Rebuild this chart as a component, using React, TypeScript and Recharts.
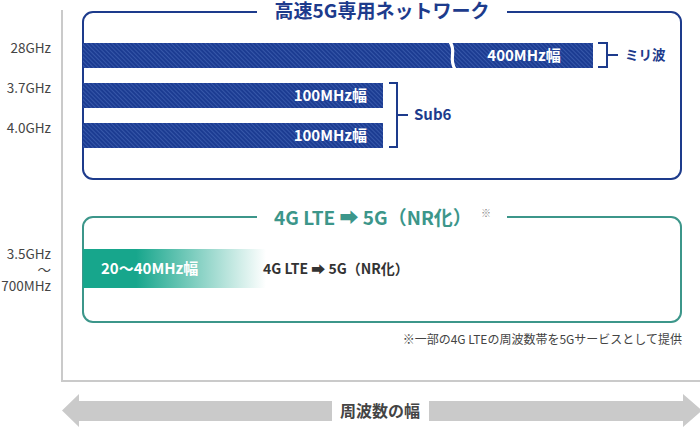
import React from 'react';
import { BarChart, Bar, XAxis, YAxis } from 'recharts';

// ---------- data ----------
const blueBands = ['28GHz', '3.7GHz', '4.0GHz'];
const blueLabels = ['400MHz幅', '100MHz幅', '100MHz幅'];
// drawn bar length on the (broken) width axis, 100MHz = 100 units
const blueBarLength = [170, 100, 100];
const blueBroken = [true, false, false];
const BREAK_VALUE = 123; // where the axis break is drawn on the broken bar

const greenBands = ['3.5GHz\n～\n700MHz'];
const greenLabels = ['20～40MHz幅'];
const greenBarLength = [61];

const blueTitle = '高速5G専用ネットワーク';
const greenTitle = '4G LTE ➡ 5G（NR化）';
const greenNote = '4G LTE ➡ 5G（NR化）';
const footnote = '※一部の4G LTEの周波数帯を5Gサービスとして提供';
const axisTitle = '周波数の幅';
const groupLabels = ['ミリ波', 'Sub6'];

const blueData = blueBands.map((band, i) => ({
  band,
  length: blueBarLength[i],
  label: blueLabels[i],
  broken: blueBroken[i],
}));
const greenData = greenBands.map((band, i) => ({
  band,
  length: greenBarLength[i],
  label: greenLabels[i],
}));

// ---------- styles ----------
const FONT = '"Noto Sans CJK JP", "Noto Sans", "DejaVu Sans", sans-serif';
const BLUE = '#1d3b8c';
const TEAL = '#3c968a';
const GREEN = '#17a68c';
const GRAY = '#cacaca';

const Tick = (props: any) => {
  const { x, y, payload, shift = 0 } = props;
  const lines = String(payload.value).split('\n');
  const lh = 16;
  const y0 = y + shift - ((lines.length - 1) * lh) / 2;
  return (
    <text x={x} y={y0} textAnchor="end" fontFamily={FONT} fontSize={13.5} fill="#444">
      {lines.map((l, i) => (
        <tspan key={i} x={x} y={y0 + i * lh} dy="0.36em">
          {l}
        </tspan>
      ))}
    </text>
  );
};

const BlueShape = (props: any) => {
  const { x, y, width, height, payload } = props;
  const end = x + width;
  const cy = y + height / 2;
  if (payload.broken) {
    const bx = x + (width * BREAK_VALUE) / payload.length;
    return (
      <g>
        <rect x={x} y={y} width={width} height={height} fill="url(#hatch)" />
        <path
          d={`M${bx - 2},${y - 1} C${bx + 5},${y + height * 0.35} ${bx - 4},${y + height * 0.6} ${bx + 3},${y + height + 1}`}
          stroke="#fff"
          strokeWidth={3.2}
          fill="none"
        />
        <text
          x={(bx + 3 + end) / 2}
          y={cy}
          dy="0.36em"
          textAnchor="middle"
          fontFamily={FONT}
          fontWeight={700}
          fontSize={15}
          fill="#fff"
        >
          {payload.label}
        </text>
      </g>
    );
  }
  return (
    <g>
      <rect x={x} y={y} width={width} height={height} fill="url(#hatch)" />
      <text
        x={end - 16}
        y={cy}
        dy="0.36em"
        textAnchor="end"
        fontFamily={FONT}
        fontWeight={700}
        fontSize={15}
        fill="#fff"
      >
        {payload.label}
      </text>
    </g>
  );
};

const GreenShape = (props: any) => {
  const { x, y, width, height, payload } = props;
  const cy = y + height / 2;
  return (
    <g>
      <rect x={x} y={y} width={width} height={height} fill="url(#greenFade)" />
      <text x={x + 18} y={cy} dy="0.36em" fontFamily={FONT} fontWeight={700} fontSize={15} fill="#fff">
        {payload.label}
      </text>
      <text x={x + width - 3} y={cy} dy="0.36em" fontFamily={FONT} fontWeight={700} fontSize={14} fill="#333">
        {greenNote}
      </text>
    </g>
  );
};

export default function App() {
  return (
    <div style={{ position: 'absolute', left: 0, top: 0, width: 700, height: 428, background: '#fff' }}>
      <div style={{ position: 'absolute', left: 0, top: 0 }}>
        <BarChart
          width={700}
          height={190}
          data={blueData}
          layout="vertical"
          margin={{ top: 35, right: 17, bottom: 35, left: 0 }}
        >
          <defs>
            <pattern id="hatch" width="3" height="3" patternUnits="userSpaceOnUse" patternTransform="rotate(-45)">
              <rect width="3" height="3" fill="#1c3c92" />
              <rect width="1" height="3" fill="#3657a9" />
            </pattern>
          </defs>
          {/* blue group box */}
          <rect x={83} y={12} width={598} height={167} rx={10} fill="none" stroke={BLUE} strokeWidth={2} />
          <rect x={257} y={0} width={250} height={26} fill="#fff" />
          <text x={382} y={17.5} textAnchor="middle" fontFamily={FONT} fontWeight={700} fontSize={19} fill={BLUE}>
            {blueTitle}
          </text>
          {/* brackets */}
          <path d="M598,43 H607 V67 H598 M607,55 H618" stroke={BLUE} strokeWidth={2} fill="none" />
          <text x={625} y={55} dy="0.36em" fontFamily={FONT} fontWeight={700} fontSize={13.5} fill={BLUE}>
            {groupLabels[0]}
          </text>
          <path d="M389,83 H397 V147 H389 M397,115 H408" stroke={BLUE} strokeWidth={2} fill="none" />
          <text x={414} y={115} dy="0.36em" fontFamily={FONT} fontWeight={700} fontSize={15} fill={BLUE}>
            {groupLabels[1]}
          </text>
          <XAxis type="number" hide domain={[0, 200]} />
          <YAxis
            type="category"
            dataKey="band"
            width={83}
            axisLine={false}
            tickLine={false}
            tickSize={0}
            tickMargin={32}
            tick={<Tick shift={-7} />}
          />
          <Bar dataKey="length" barSize={25} isAnimationActive={false} shape={<BlueShape />} />
        </BarChart>
      </div>
      <div style={{ position: 'absolute', left: 0, top: 0 }}>
        <BarChart
          width={700}
          height={428}
          data={greenData}
          layout="vertical"
          margin={{ top: 228, right: 17, bottom: 120, left: 0 }}
        >
          <defs>
            <linearGradient id="greenFade" x1="0" y1="0" x2="1" y2="0">
              <stop offset="0" stopColor={GREEN} stopOpacity={1} />
              <stop offset="0.29" stopColor={GREEN} stopOpacity={1} />
              <stop offset="1" stopColor={GREEN} stopOpacity={0} />
            </linearGradient>
          </defs>
          {/* axes frame */}
          <path d="M62,10 V381 H700" stroke={GRAY} strokeWidth={2} fill="none" />
          {/* green group box */}
          <rect x={83} y={217} width={598} height={105} rx={10} fill="none" stroke={TEAL} strokeWidth={2} />
          <rect x={257} y={204} width={250} height={26} fill="#fff" />
          <text x={373} y={224.5} textAnchor="middle" fontFamily={FONT} fontWeight={700} fontSize={19} fill={TEAL}>
            {greenTitle}
          </text>
          <text x={481} y={217} fontFamily={FONT} fontSize={10} fill="#888">
            ※
          </text>
          <text x={682} y={340} dy="0.36em" textAnchor="end" fontFamily={FONT} fontSize={12} fill="#444">
            {footnote}
          </text>
          {/* bottom double arrow */}
          <path d="M62,410.5 L79,394 V401 H332 V421 H79 V427 Z" fill={GRAY} />
          <path d="M702,410.5 L683,394 V401 H429 V421 H683 V427 Z" fill={GRAY} />
          <text x={380} y={411} dy="0.36em" textAnchor="middle" fontFamily={FONT} fontWeight={700} fontSize={16} fill="#444">
            {axisTitle}
          </text>
          <XAxis type="number" hide domain={[0, 200]} />
          <YAxis
            type="category"
            dataKey="band"
            width={83}
            axisLine={false}
            tickLine={false}
            tickSize={0}
            tickMargin={32}
            tick={<Tick shift={2} />}
          />
          <Bar dataKey="length" barSize={39} isAnimationActive={false} shape={<GreenShape />} />
        </BarChart>
      </div>
    </div>
  );
}
